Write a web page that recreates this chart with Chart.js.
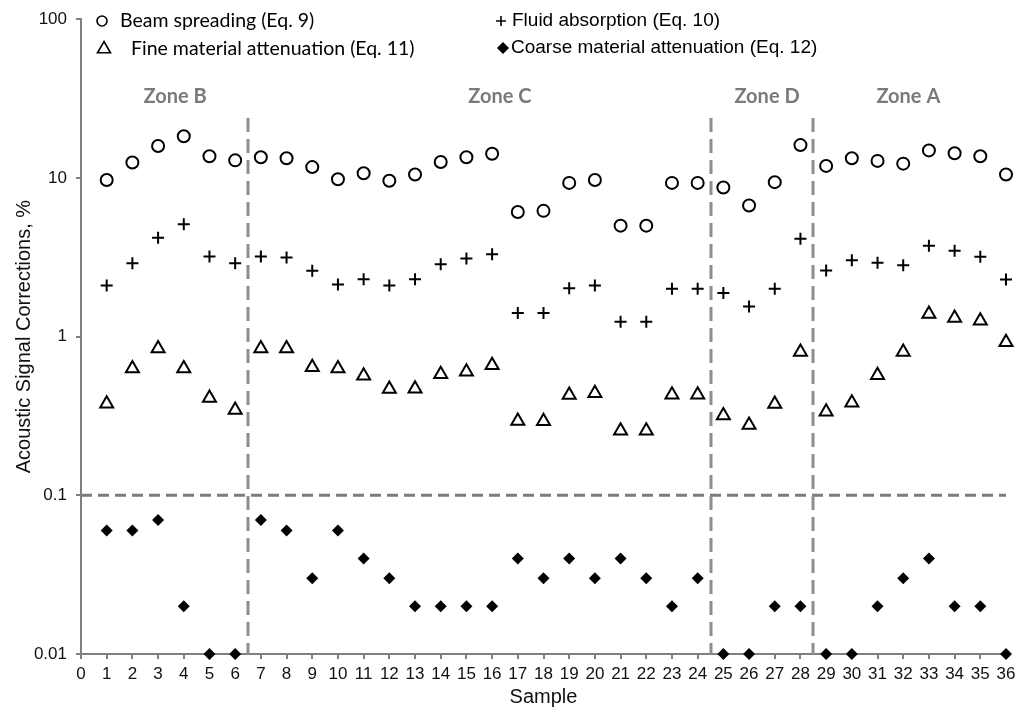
<!DOCTYPE html>
<html>
<head>
<meta charset="utf-8">
<title>Acoustic Signal Corrections</title>
<script src="https://cdn.jsdelivr.net/npm/chart.js@4.4.0/dist/chart.umd.min.js"></script>
<style>
  html, body { margin: 0; padding: 0; background: #fff; }
  #wrap { width: 1016px; height: 713px; }
</style>
</head>
<body>
<div id="wrap"><canvas id="corrections" width="1016" height="713"></canvas></div>
<script>
// sample numbers 1..36
var samples = [1,2,3,4,5,6,7,8,9,10,11,12,13,14,15,16,17,18,19,20,21,22,23,24,25,26,27,28,29,30,31,32,33,34,35,36];

// corrections in %, per sample
var beamSpreading = [9.7,12.5,15.9,18.3,13.7,12.9,13.5,13.3,11.7,9.8,10.7,9.6,10.5,12.6,13.5,14.2,6.1,6.2,
                     9.3,9.7,5.0,5.0,9.3,9.3,8.7,6.7,9.4,16.1,11.9,13.3,12.8,12.3,14.9,14.3,13.7,10.5];
var fluidAbsorption = [2.1,2.9,4.2,5.1,3.2,2.9,3.2,3.15,2.6,2.13,2.3,2.1,2.3,2.86,3.1,3.3,1.41,1.41,
                       2.02,2.1,1.24,1.24,2.0,2.0,1.88,1.55,2.0,4.14,2.61,3.03,2.92,2.82,3.73,3.47,3.19,2.29];
var fineAttenuation = [0.378,0.63,0.84,0.63,0.41,0.345,0.84,0.84,0.64,0.63,0.566,0.467,0.47,0.58,0.60,0.66,0.294,0.293,
                       0.428,0.44,0.255,0.255,0.43,0.43,0.318,0.277,0.376,0.80,0.336,0.383,0.57,0.80,1.39,1.31,1.26,0.92];
var coarseAttenuation = [0.06,0.06,0.07,0.02,0.01,0.01,0.07,0.06,0.03,0.06,0.04,0.03,0.02,0.02,0.02,0.02,0.04,0.03,
                         0.04,0.03,0.04,0.03,0.02,0.03,0.01,0.01,0.02,0.02,0.01,0.01,0.02,0.03,0.04,0.02,0.02,0.01];

var seriesNames = ["Beam spreading (Eq. 9)", "Fluid absorption (Eq. 10)",
                   "Fine material attenuation (Eq. 11)", "Coarse material attenuation (Eq. 12)"];

// zone boundaries, zone names and where their names sit along the x axis
var zoneBounds = [6.5, 24.5, 28.5];
var zoneNames = ["Zone B", "Zone C", "Zone D", "Zone A"];
var zoneLabelAt = [3.66, 16.3, 26.7, 32.2];
var thresholdValue = 0.1;

var yTicks = [0.01, 0.1, 1, 10, 100];

function pts(values) {
  return samples.map(function (s, i) { return { x: s, y: values[i] }; });
}

// dashed zone separators, the 0.1 threshold and the zone names
var zonesPlugin = {
  id: "zones",
  beforeDatasetsDraw: function (chart) {
    var ctx = chart.ctx, xs = chart.scales.x, ys = chart.scales.y, area = chart.chartArea;
    ctx.save();
    ctx.strokeStyle = "#7c7c7c";
    ctx.lineWidth = 3;
    ctx.setLineDash([11, 6]);
    var yt = ys.getPixelForValue(thresholdValue);
    ctx.beginPath();
    ctx.moveTo(area.left, yt);
    ctx.lineTo(area.right, yt);
    ctx.stroke();

    ctx.strokeStyle = "#8e8e8e";
    ctx.setLineDash([14, 7]);
    zoneBounds.forEach(function (b) {
      var xb = Math.round(xs.getPixelForValue(b));
      ctx.beginPath();
      ctx.moveTo(xb, 118);
      ctx.lineTo(xb, area.bottom);
      ctx.stroke();
    });
    ctx.setLineDash([]);

    ctx.fillStyle = "#7a7a7a";
    ctx.font = "bold 20px Lato";
    ctx.textAlign = "center";
    ctx.textBaseline = "middle";
    zoneNames.forEach(function (name, i) {
      ctx.fillText(name, xs.getPixelForValue(zoneLabelAt[i]), 97);
    });
    ctx.restore();
  }
};

function drawMarker(ctx, style, x, y, r) {
  ctx.beginPath();
  if (style === "circle") {
    ctx.arc(x, y, r, 0, Math.PI * 2);
    ctx.fillStyle = "#fff";
    ctx.fill();
    ctx.stroke();
  } else if (style === "cross") {
    ctx.moveTo(x - r, y); ctx.lineTo(x + r, y);
    ctx.moveTo(x, y - r); ctx.lineTo(x, y + r);
    ctx.stroke();
  } else if (style === "triangle") {
    var h = r * Math.sqrt(3) / 2;
    ctx.moveTo(x, y - r);
    ctx.lineTo(x + h, y + r / 2);
    ctx.lineTo(x - h, y + r / 2);
    ctx.closePath();
    ctx.stroke();
  } else {
    ctx.moveTo(x - r, y); ctx.lineTo(x, y - r); ctx.lineTo(x + r, y); ctx.lineTo(x, y + r);
    ctx.closePath();
    ctx.fillStyle = "#000";
    ctx.fill();
  }
}

// two-column legend drawn inside the plot
var legendPlugin = {
  id: "cornerLegend",
  afterDraw: function (chart) {
    var ctx = chart.ctx;
    var rows = [
      { style: "circle", mx: 102, my: 21, r: 5, tx: 120, font: "19.5px Lato" },
      { style: "cross", mx: 501, my: 21, r: 5, tx: 512, font: "19px 'Liberation Sans'" },
      { style: "triangle", mx: 104, my: 49, r: 7.5, tx: 131, font: "19.5px Lato" },
      { style: "diamond", mx: 503, my: 48, r: 6, tx: 511, font: "19px 'Liberation Sans'" }
    ];
    ctx.save();
    ctx.strokeStyle = "#000";
    ctx.lineWidth = 1.6;
    rows.forEach(function (row, i) {
      drawMarker(ctx, row.style, row.mx, row.my, row.r);
      ctx.fillStyle = "#000";
      ctx.font = row.font;
      ctx.textAlign = "left";
      ctx.textBaseline = "middle";
      ctx.fillText(seriesNames[i], row.tx, row.my);
    });
    ctx.restore();
  }
};

var ctx = document.getElementById("corrections").getContext("2d");

var chart = new Chart(ctx, {
  type: "scatter",
  data: {
    datasets: [
      {
        label: seriesNames[0],
        data: pts(beamSpreading),
        pointStyle: "circle",
        pointRadius: 6,
        borderWidth: 2,
        borderColor: "#000",
        backgroundColor: "#fff"
      },
      {
        label: seriesNames[1],
        data: pts(fluidAbsorption),
        pointStyle: "cross",
        pointRadius: 6,
        borderWidth: 2,
        borderColor: "#000",
        backgroundColor: "#000"
      },
      {
        label: seriesNames[2],
        data: pts(fineAttenuation),
        pointStyle: "triangle",
        pointRadius: 7.5,
        borderWidth: 2,
        borderColor: "#000",
        backgroundColor: "#fff"
      },
      {
        label: seriesNames[3],
        data: pts(coarseAttenuation),
        pointStyle: "rectRot",
        pointRadius: 6,
        borderWidth: 0,
        borderColor: "#000",
        backgroundColor: "#000"
      }
    ]
  },
  options: {
    responsive: false,
    animation: false,
    events: [],
    clip: false,
    layout: { padding: { top: 15, right: 10, left: 0, bottom: 0 } },
    plugins: {
      legend: { display: false },
      tooltip: { enabled: false }
    },
    scales: {
      x: {
        type: "linear",
        min: 0,
        max: 36,
        afterFit: function (s) {
          s.height = 59;
          s.paddingLeft = 0;
          s.paddingRight = 0;
        },
        ticks: {
          stepSize: 1,
          autoSkip: false,
          maxRotation: 0,
          padding: 5,
          color: "#111",
          font: { family: "'Liberation Sans'", size: 17 }
        },
        grid: { drawOnChartArea: false, tickLength: 5, color: "#808080", lineWidth: 2 },
        border: { display: true, color: "#808080", width: 2 },
        title: {
          display: true,
          text: "Sample",
          color: "#111",
          font: { family: "'Liberation Sans'", size: 20 },
          padding: { top: 0, bottom: 4 }
        }
      },
      y: {
        type: "logarithmic",
        min: 0.01,
        max: 100,
        afterFit: function (s) { s.width = 81; },
        afterBuildTicks: function (s) {
          s.ticks = yTicks.map(function (v) { return { value: v }; });
        },
        ticks: {
          padding: 9,
          color: "#111",
          font: { family: "'Liberation Sans'", size: 17 },
          callback: function (v) { return String(v); }
        },
        grid: { drawOnChartArea: false, tickLength: 5, color: "#808080", lineWidth: 2 },
        border: { display: true, color: "#808080", width: 2 },
        title: {
          display: true,
          text: "Acoustic Signal Corrections, %",
          color: "#111",
          font: { family: "'Liberation Sans'", size: 20 },
          padding: { top: 12, bottom: 0 }
        }
      }
    }
  },
  plugins: [zonesPlugin, legendPlugin]
});
</script>
</body>
</html>
